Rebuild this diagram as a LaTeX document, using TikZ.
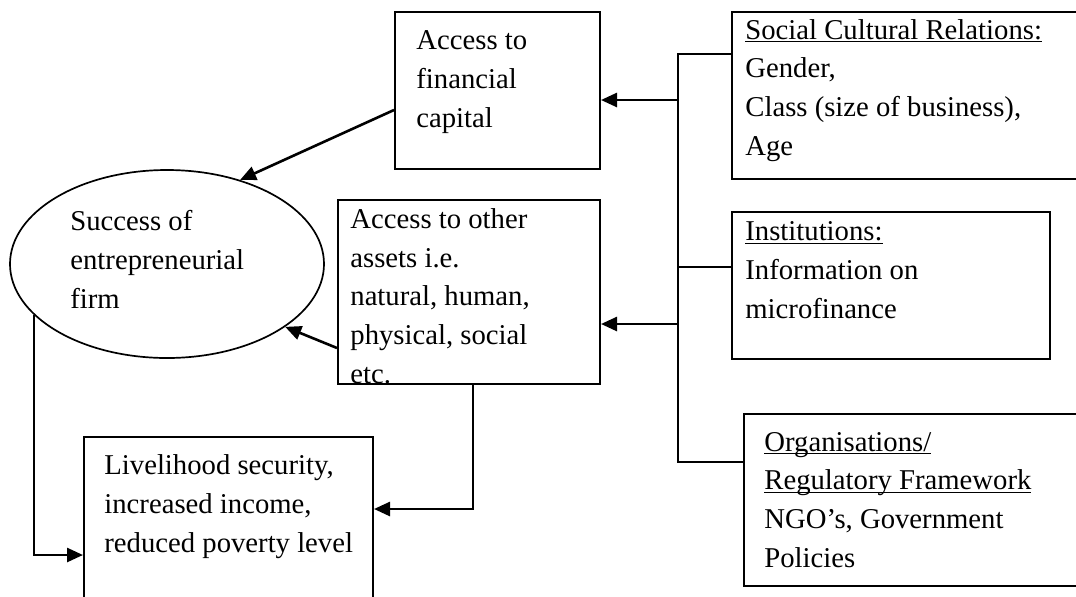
\documentclass[tikz,border=0pt]{standalone}
\usepackage{fontspec}
\setmainfont{Liberation Serif}
\usetikzlibrary{arrows.meta,calc,shapes.geometric}
\newsavebox{\ulinebox}
\newcommand{\uln}[1]{\sbox{\ulinebox}{#1}\rlap{\rule[-1.6pt]{\wd\ulinebox}{0.7pt}}\usebox{\ulinebox}}
\begin{document}
\begin{tikzpicture}[x=0.5pt,y=-0.5pt,
  font=\fontsize{14.35}{19.3}\selectfont,
  box/.style={draw, rectangle, line width=1pt, inner sep=0pt},
  oval/.style={draw, ellipse, line width=0.85pt, inner sep=0pt},
  % text blocks are placed by the baseline of their last line
  txt/.style={anchor=base west, align=left, inner sep=0pt},
  bus/.style={line width=0.8pt},
  arr/.style={line width=1.3pt, -{Triangle[length=8pt,width=7pt]}}]
\useasboundingbox (0,0) rectangle (1076,596);
\clip (0,0) rectangle (1076,596);

% boxes
\node[box, minimum width=102.5pt, minimum height=78.5pt] (fin) at (497.5,90.5) {};
\node[box, minimum width=131pt, minimum height=92pt] (oth) at (469,292) {};
\node[box, minimum width=179pt, minimum height=83.5pt] (soc) at (911,95.5) {};
\node[box, minimum width=159pt, minimum height=73.5pt] (inst) at (891,285.5) {};
\node[box, minimum width=173pt, minimum height=86pt] (org) at (917,500) {};
\node[box, minimum width=144.5pt, minimum height=91.5pt] (liv) at (228.5,528.5) {};
\node[oval, minimum width=157pt, minimum height=94pt] (el) at (167,264) {};

% texts
\node[txt] (finT) at (416,127) {Access to\\financial\\capital};
\node[txt] (othT) at (350,383) {Access to other\\assets i.e.\\natural, human,\\physical, social\\etc.};
\node[txt] (socT) at (745,155) {\uln{Social Cultural Relations:}\\Gender,\\Class (size of business),\\Age};
\node[txt] (instT) at (745,318) {\uln{Institutions:}\\Information on\\microfinance};
\node[txt] (orgT) at (764,567) {\uln{Organisations/}\\\uln{Regulatory Framework}\\NGO’s, Government\\Policies};
\node[txt] (livT) at (104,552) {Livelihood security,\\increased income,\\reduced poverty level};
\node[txt] (elT) at (70,308) {Success of\\entrepreneurial\\firm};

% bus from the right-hand factors
\coordinate (bt) at (678,54);
\coordinate (bb) at (678,462);
\draw[bus] (soc.west |- bt) -- (bt) -- (bb) -- (org.west |- bb);
\draw[bus] (bt |- 0,267) -- (inst.west |- 0,267);

% arrows
\draw[arr] (bt |- 0,100) -- (fin.east |- 0,100);
\draw[arr] (bt |- 0,324) -- (oth.east |- 0,324);
\draw[arr] (fin.west |- 0,110) -- (el.49);
\draw[arr] (oth.west |- 0,348) -- (el.332);
\draw[arr] (el.201) |- (liv.west |- 0,555);
\draw[arr] (oth.south -| 473,0) |- (liv.east |- 0,509);
\end{tikzpicture}
\end{document}
